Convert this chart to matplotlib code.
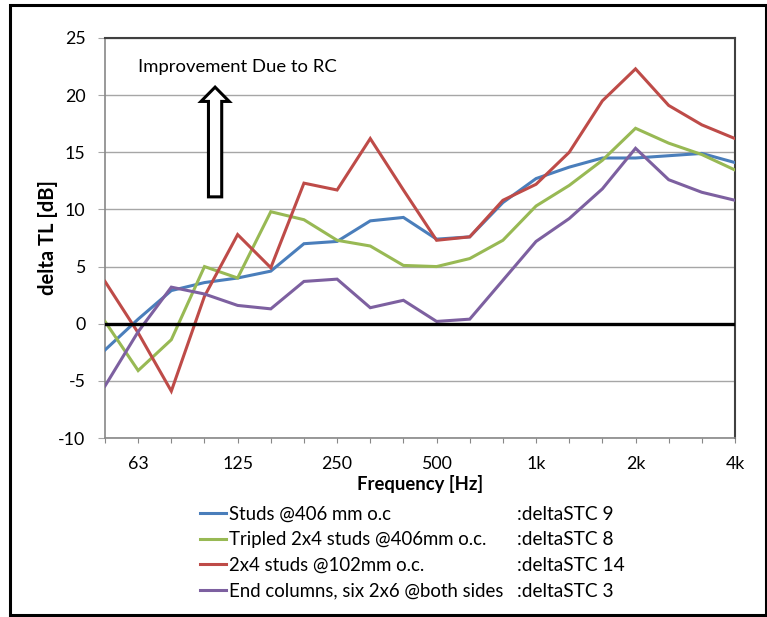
import matplotlib
matplotlib.use("Agg")
import matplotlib.pyplot as plt
from matplotlib.patches import FancyArrow, Rectangle

plt.rcParams['font.family'] = ['Lato', 'DejaVu Sans']
plt.rcParams['axes.unicode_minus'] = False

freqs = ['50', '63', '80', '100', '125', '160', '200', '250', '315', '400',
         '500', '630', '800', '1k', '1.25k', '1.6k', '2k', '2.5k', '3.15k', '4k']
shown_labels = ['63', '125', '250', '500', '1k', '2k', '4k']

studs_406 = [-2.3, 0.4, 2.9, 3.6, 4.0, 4.6, 7.0, 7.2, 9.0, 9.3,
             7.4, 7.6, 10.6, 12.7, 13.7, 14.5, 14.5, 14.7, 14.9, 14.1]
tripled = [0.2, -4.1, -1.4, 5.0, 4.0, 9.8, 9.1, 7.3, 6.8, 5.1,
           5.0, 5.7, 7.3, 10.3, 12.1, 14.3, 17.1, 15.8, 14.8, 13.45]
studs_102 = [3.7, -0.8, -5.9, 2.4, 7.8, 4.9, 12.3, 11.7, 16.2, 11.7,
             7.3, 7.6, 10.8, 12.2, 15.0, 19.5, 22.3, 19.1, 17.4, 16.2]
end_columns = [-5.45, -0.7, 3.2, 2.6, 1.6, 1.3, 3.7, 3.9, 1.4, 2.05,
               0.2, 0.4, 3.8, 7.2, 9.2, 11.8, 15.35, 12.6, 11.5, 10.8]

series_names = ['Studs @406 mm o.c', 'Tripled 2x4 studs @406mm o.c.',
                '2x4 studs @102mm o.c.', 'End columns, six 2x6 @both sides']
stc_labels = [':deltaSTC 9', ':deltaSTC 8', ':deltaSTC 14', ':deltaSTC 3']
colors = ['#4A7EBB', '#98B954', '#BE4B48', '#7D60A0']

W, H = 767, 617
fig = plt.figure(figsize=(W / 100, H / 100), dpi=100)
ax = fig.add_axes([105 / W, 1 - 438 / H, 630 / W, 400 / H])

x = list(range(len(freqs)))
handles = []
for vals, c, name in zip([studs_406, tripled, studs_102, end_columns], colors, series_names):
    h, = ax.plot(x, vals, color=c, lw=2.2, solid_joinstyle='miter', label=name, zorder=3)
    handles.append(h)

ax.axhline(0, color='black', lw=2.4, zorder=4)

ax.set_xlim(0, len(freqs) - 1)
ax.set_ylim(-10, 25)
ax.set_yticks(range(-10, 26, 5))
ax.yaxis.grid(True, color='#A6A6A6', lw=1)
ax.set_axisbelow(True)
ax.set_xticks(x)
ax.set_xticklabels([f if f in shown_labels else '' for f in freqs])
ax.tick_params(axis='x', direction='out', length=3.6, color='#888888', labelsize=12.8, pad=9.5)
ax.tick_params(axis='y', direction='out', length=5, color='#A6A6A6', labelsize=12.8, pad=9)

for s in ['left', 'bottom']:
    ax.spines[s].set_color('#888888')
    ax.spines[s].set_linewidth(1.2)
for s in ['top', 'right']:
    ax.spines[s].set_color('#404040')
    ax.spines[s].set_linewidth(1.5)

ax.set_xlabel('Frequency [Hz]', fontsize=13.3, fontweight='bold', labelpad=2)
ax.set_ylabel('delta TL [dB]', fontsize=14.5, fontweight='bold', labelpad=0.5)

# annotation
ax.text(1.0, 22.5, 'Improvement Due to RC', fontsize=13.3, ha='left', va='center')
arrow = FancyArrow(3.32, 11.1, 0, 8.35, width=0.40, head_width=0.85, head_length=1.25,
                   length_includes_head=False, facecolor='white', edgecolor='black',
                   lw=2.2, zorder=5)
ax.add_patch(arrow)

leg = fig.legend(handles=handles, labels=series_names, loc='upper left',
                 bbox_to_anchor=(200 / W, 1 - 505.5 / H), frameon=False,
                 fontsize=13.4, handlelength=1.42, handletextpad=0.15,
                 labelspacing=0.47, borderpad=0, borderaxespad=0)

fig.canvas.draw()
r = fig.canvas.get_renderer()
for t, stc in zip(leg.get_texts(), stc_labels):
    bb = t.get_window_extent(r)
    yc = (bb.y0 + bb.y1) / 2 / H
    fig.text(517 / W, yc, stc, fontsize=13.8, ha='left', va='center')

# figure frame
fig.add_artist(Rectangle((10 / W, 1 - 615 / H), 756 / W, 610 / H, transform=fig.transFigure,
                         fill=False, edgecolor='black', lw=2.2))

fig.savefig('out.png', dpi=100)
